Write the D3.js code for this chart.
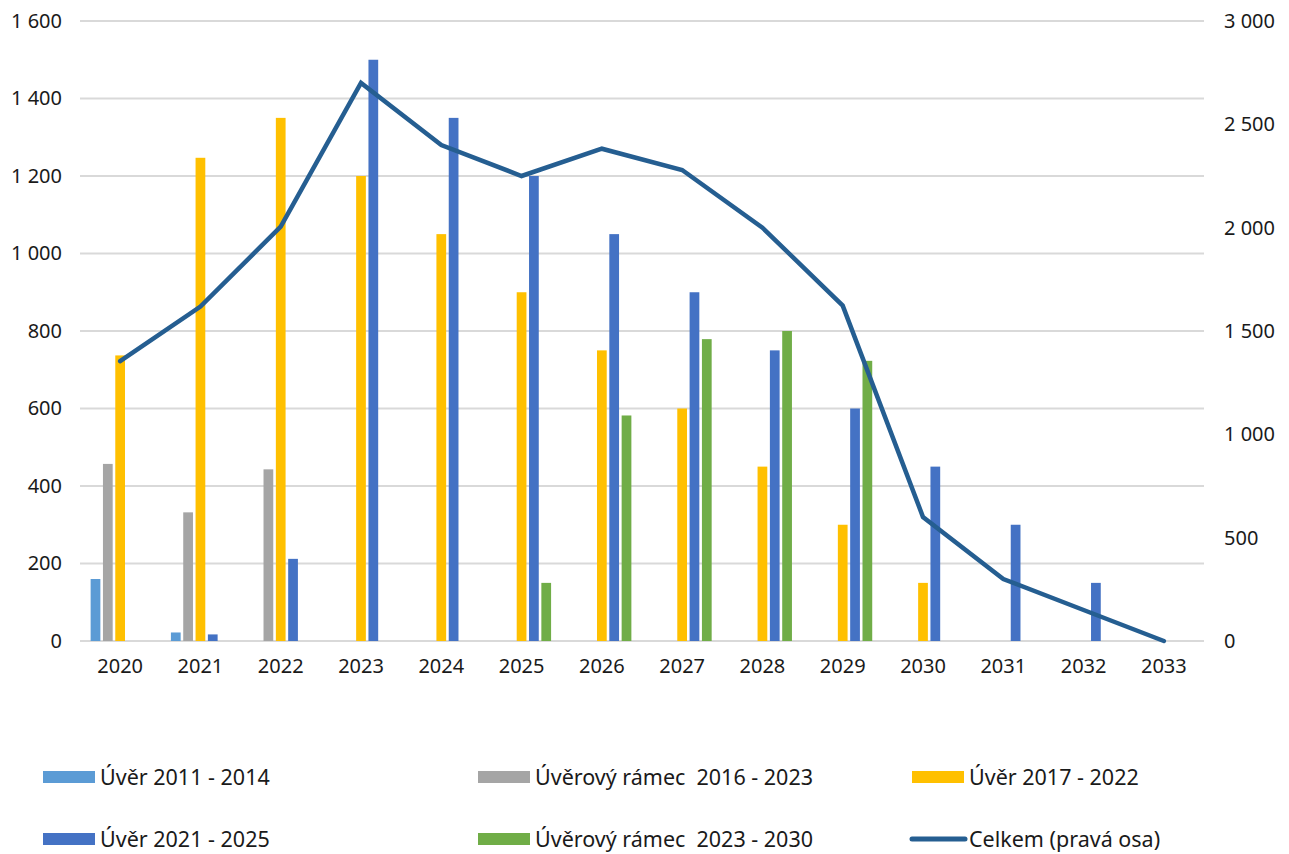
<!DOCTYPE html>
<html><head><meta charset="utf-8">
<script src="https://cdn.jsdelivr.net/npm/d3@7"></script>
<style>
body{margin:0;background:#fff;}
text{font-family:"Century Gothic","Noto Sans",sans-serif;fill:#1a1a1a;}
</style></head>
<body><svg id="c" width="1289" height="854"></svg>
<script>
const categories = ["2020","2021","2022","2023","2024","2025","2026","2027","2028","2029","2030","2031","2032","2033"];
const seriesNames = ["Úvěr 2011 - 2014","Úvěrový rámec  2016 - 2023","Úvěr 2017 - 2022","Úvěr 2021 - 2025","Úvěrový rámec  2023 - 2030"];
const uver2011 = [160,22,0,0,0,0,0,0,0,0,0,0,0,0];
const ramec2016 = [457,332,443,0,0,0,0,0,0,0,0,0,0,0];
const uver2017 = [737,1247,1350,1200,1050,900,750,600,450,300,150,0,0,0];
const uver2021 = [0,17,212,1500,1350,1200,1050,900,750,600,450,300,150,0];
const ramec2023 = [0,0,0,0,0,150,582,779,800,723,0,0,0,0];
const celkem = [1354,1618,2005,2700,2400,2250,2382,2279,2000,1623,600,300,150,0];
const leftTicks = [0,200,400,600,800,1000,1200,1400,1600];
const rightTicks = [0,500,1000,1500,2000,2500,3000];
const colors = ["#5b9bd5","#a5a5a5","#ffc000","#4472c4","#70ad47"];
const lineColor = "#255e91";
const lineName = "Celkem (pravá osa)";
const seriesVals = [uver2011, ramec2016, uver2017, uver2021, ramec2023];

const svg = d3.select("#c");
const L = 80, R = 1204, T = 21, B = 641;
const x = d3.scaleBand().domain(categories).range([L, R]).padding(0);
const yL = d3.scaleLinear().domain([0,1600]).range([B, T]);
const yR = d3.scaleLinear().domain([0,3000]).range([B, T]);
const x1 = d3.scaleBand().domain(d3.range(5)).range([-30.75, 30.75]).paddingInner(0.21).paddingOuter(0.1);

// gridlines
svg.append("g").selectAll("line").data(leftTicks).join("line")
  .attr("x1", L).attr("x2", R).attr("y1", d=>yL(d)).attr("y2", d=>yL(d))
  .attr("stroke", "#d9d9d9").attr("stroke-width", 2);

// bars
seriesVals.forEach((vals, si) => {
  svg.append("g").selectAll("rect").data(vals.map((v,i)=>({c:categories[i], v})).filter(d=>d.v>0)).join("rect")
    .attr("x", d => x(d.c) + x.bandwidth()/2 + x1(si))
    .attr("width", x1.bandwidth())
    .attr("y", d => yL(d.v))
    .attr("height", d => B - yL(d.v))
    .attr("fill", colors[si]);
});

// line
const line = d3.line().x((d,i)=>x(categories[i]) + x.bandwidth()/2).y(d=>yR(d));
svg.append("path").datum(celkem).attr("d", line).attr("fill","none")
  .attr("stroke", lineColor).attr("stroke-width", 4.5).attr("stroke-linejoin","miter").attr("stroke-linecap","round");

const fmt = v => d3.format(",")(v).replace(/,/g, " ");
// left axis
const gl = svg.append("g").attr("transform", `translate(${L},0)`)
  .call(d3.axisLeft(yL).tickValues(leftTicks).tickSize(0).tickPadding(18).tickFormat(fmt));
gl.select(".domain").remove();
gl.selectAll("text").attr("font-size", 20).attr("font-family", null).style("fill","#1a1a1a");
// right axis
const gr = svg.append("g").attr("transform", `translate(${R},0)`)
  .call(d3.axisRight(yR).tickValues(rightTicks).tickSize(0).tickPadding(20).tickFormat(fmt));
gr.select(".domain").remove();
gr.selectAll("text").attr("font-size", 20).attr("font-family", null).style("fill","#1a1a1a");
// bottom axis
const gb = svg.append("g").attr("transform", `translate(0,${B})`)
  .call(d3.axisBottom(x).tickSize(0).tickPadding(18));
gb.select(".domain").remove();
gb.selectAll("text").attr("font-size", 20).attr("font-family", null).style("fill","#1a1a1a");

// legend
const legendItems = seriesNames.map((n,i)=>({name:n, color:colors[i], type:"rect"}));
legendItems.push({name:lineName, color:lineColor, type:"line"});
const colX = [43, 478, 912];
const rowY = [777, 839];
legendItems.forEach((d,i) => {
  const cx = colX[i%3], cy = rowY[Math.floor(i/3)];
  const g = svg.append("g").attr("transform", `translate(${cx},${cy})`);
  if (d.type === "rect") {
    g.append("rect").attr("x",0).attr("y",-6).attr("width",52).attr("height",12).attr("fill",d.color);
  } else {
    g.append("line").attr("x1",0).attr("x2",53).attr("y1",0).attr("y2",0)
      .attr("stroke",d.color).attr("stroke-width",5).attr("stroke-linecap","round");
  }
  g.append("text").attr("x", 57).attr("y",0).attr("dy","0.35em")
    .attr("font-size",21.5).style("white-space","pre").attr("xml:space","preserve").text(d.name);
});
</script></body></html>
